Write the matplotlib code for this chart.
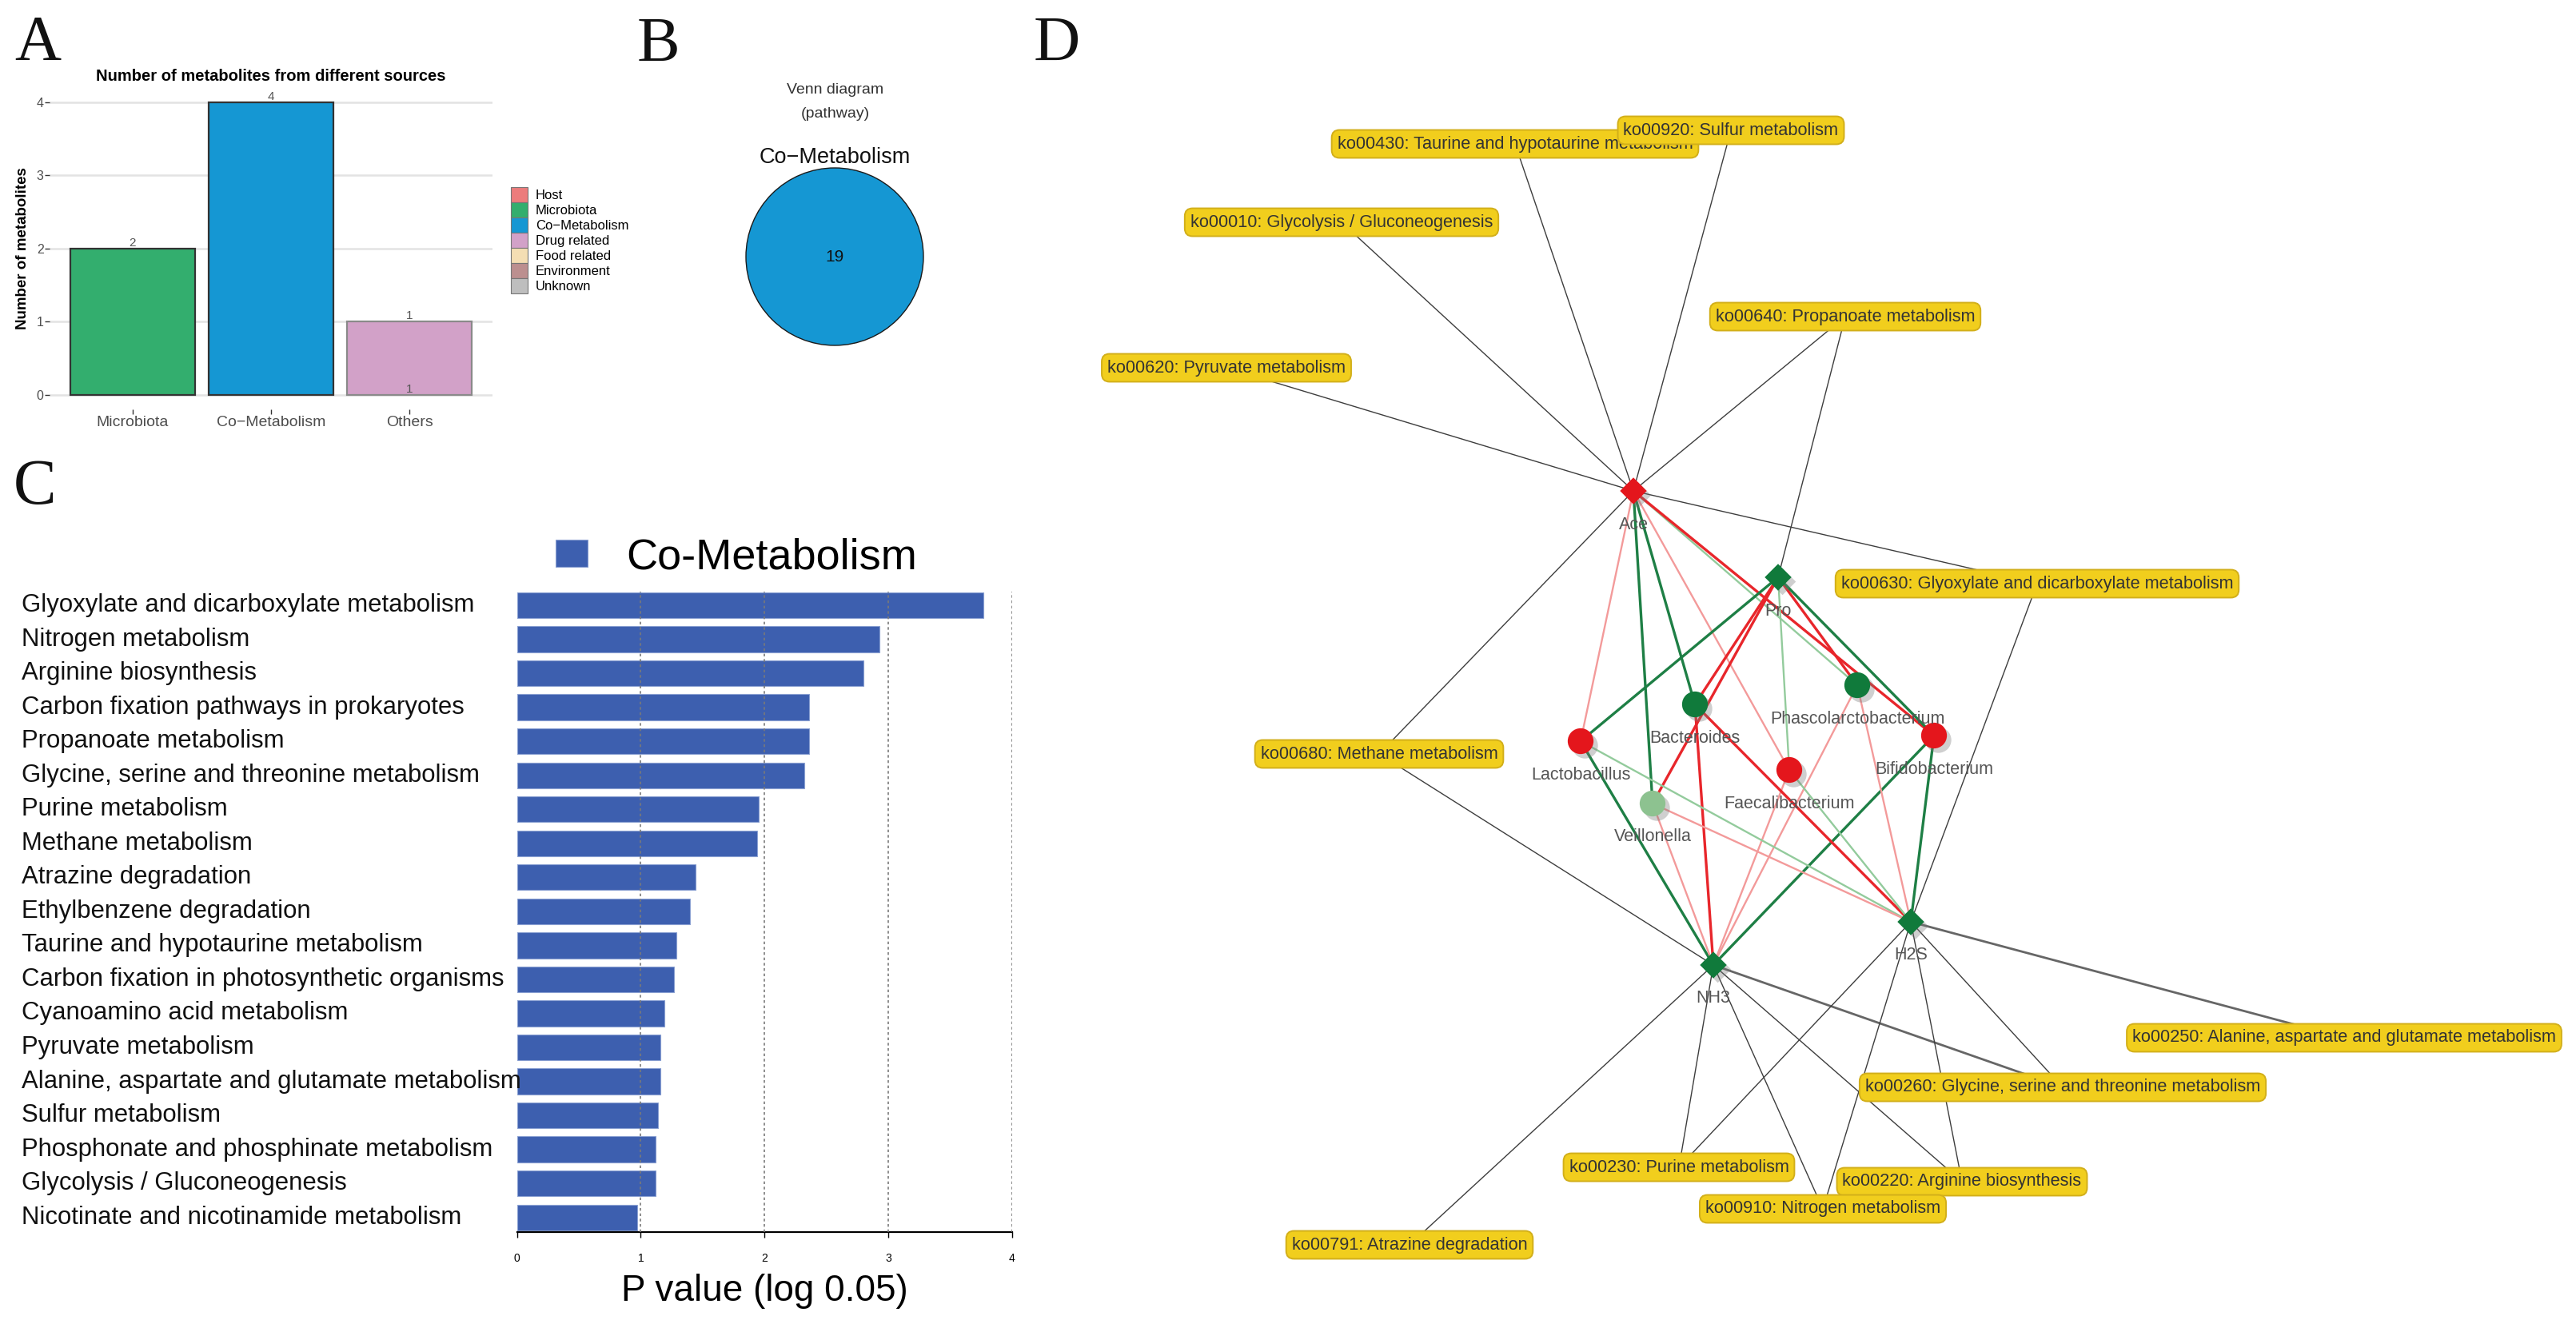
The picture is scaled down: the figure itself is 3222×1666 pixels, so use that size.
import numpy as np
import matplotlib.pyplot as plt
from matplotlib.patches import Patch, Circle
from matplotlib import patheffects
from matplotlib.transforms import blended_transform_factory

plt.rcParams['font.family'] = ['Liberation Sans', 'DejaVu Sans']

# figure size in pixels (dpi 100)
W, H = 3223, 1666

# ---------------- panel A: metabolite sources ----------------
source_cats = ['Microbiota', 'Co\u2212Metabolism', 'Others']
source_counts = [2, 4, 1]
source_colors = ['#33AE6E', '#1597D3', '#D2A1C8']
source_edges = ['#333333', '#333333', '#8a8a8a']
legend_names = ['Host', 'Microbiota', 'Co\u2212Metabolism', 'Drug related',
                'Food related', 'Environment', 'Unknown']
legend_colors = ['#EC7C7C', '#33AE6E', '#1597D3', '#D2A1C8',
                 '#F4DEB3', '#BC8F8F', '#BEBEBE']

# ---------------- panel B: venn ----------------
venn_set = 'Co\u2212Metabolism'
venn_count = 19

# ---------------- panel C: enrichment ----------------
pathways = ['Glyoxylate and dicarboxylate metabolism', 'Nitrogen metabolism',
            'Arginine biosynthesis', 'Carbon fixation pathways in prokaryotes',
            'Propanoate metabolism', 'Glycine, serine and threonine metabolism',
            'Purine metabolism', 'Methane metabolism', 'Atrazine degradation',
            'Ethylbenzene degradation', 'Taurine and hypotaurine metabolism',
            'Carbon fixation in photosynthetic organisms',
            'Cyanoamino acid metabolism', 'Pyruvate metabolism',
            'Alanine, aspartate and glutamate metabolism', 'Sulfur metabolism',
            'Phosphonate and phosphinate metabolism',
            'Glycolysis / Gluconeogenesis',
            'Nicotinate and nicotinamide metabolism']
log_p = [3.77, 2.93, 2.80, 2.36, 2.36, 2.32, 1.95, 1.94, 1.44, 1.40,
         1.29, 1.27, 1.19, 1.16, 1.16, 1.14, 1.12, 1.12, 0.97]

# ---------------- panel D: network (layout in pixel coords) ----------------
node_names = ['Ace', 'Pro', 'NH3', 'H2S', 'Lactobacillus', 'Bacteroides',
              'Phascolarctobacterium', 'Bifidobacterium', 'Faecalibacterium',
              'Veillonella']
node_x = [2043, 2224, 2143, 2390, 1977, 2120, 2323, 2419, 2238, 2067]
node_y = [614, 722, 1207, 1153, 927, 881, 857, 920, 963, 1005]
node_marker = ['D', 'D', 'D', 'D', 'o', 'o', 'o', 'o', 'o', 'o']
node_color = ['#E4161C', '#107A3B', '#107A3B', '#107A3B', '#E4161C',
              '#107A3B', '#107A3B', '#E4161C', '#E4161C', '#8DC290']

ko_names = ['ko00430: Taurine and hypotaurine metabolism', 'ko00920: Sulfur metabolism',
            'ko00010: Glycolysis / Gluconeogenesis', 'ko00620: Pyruvate metabolism',
            'ko00640: Propanoate metabolism', 'ko00630: Glyoxylate and dicarboxylate metabolism',
            'ko00680: Methane metabolism', 'ko00250: Alanine, aspartate and glutamate metabolism',
            'ko00260: Glycine, serine and threonine metabolism', 'ko00230: Purine metabolism',
            'ko00220: Arginine biosynthesis', 'ko00910: Nitrogen metabolism',
            'ko00791: Atrazine degradation']
ko_x = [1895, 2165, 1678, 1534, 2308, 2548, 1725, 2932, 2580, 2100, 2454, 2280, 1763]
ko_y = [180, 163, 278, 460, 396, 730, 943, 1298, 1360, 1460, 1478, 1512, 1557]

# metabolite -> pathway links (index into ko lists)
ko_links = [('Ace', 0), ('Ace', 1), ('Ace', 2), ('Ace', 3), ('Ace', 4), ('Ace', 5),
            ('Ace', 6), ('Pro', 4),
            ('NH3', 6), ('NH3', 12), ('NH3', 9), ('NH3', 11), ('NH3', 10), ('NH3', 8),
            ('H2S', 5), ('H2S', 7), ('H2S', 8), ('H2S', 9), ('H2S', 10), ('H2S', 11)]

# microbe <-> metabolite correlations: pos/neg, strong/weak
corr_links = [('Ace', 'Lactobacillus', 'pos_w'), ('Ace', 'Veillonella', 'neg_s'),
              ('Ace', 'Bacteroides', 'neg_s'), ('Ace', 'Faecalibacterium', 'pos_w'),
              ('Ace', 'Phascolarctobacterium', 'neg_w'), ('Ace', 'Bifidobacterium', 'pos_s'),
              ('Pro', 'Lactobacillus', 'neg_s'), ('Pro', 'Bacteroides', 'pos_s'),
              ('Pro', 'Veillonella', 'pos_s'), ('Pro', 'Faecalibacterium', 'neg_w'),
              ('Pro', 'Phascolarctobacterium', 'pos_s'), ('Pro', 'Bifidobacterium', 'neg_s'),
              ('NH3', 'Lactobacillus', 'neg_s'), ('NH3', 'Veillonella', 'pos_w'),
              ('NH3', 'Bacteroides', 'pos_s'), ('NH3', 'Faecalibacterium', 'pos_w'),
              ('NH3', 'Phascolarctobacterium', 'pos_w'), ('NH3', 'Bifidobacterium', 'neg_s'),
              ('H2S', 'Lactobacillus', 'neg_w'), ('H2S', 'Veillonella', 'pos_w'),
              ('H2S', 'Bacteroides', 'pos_s'), ('H2S', 'Faecalibacterium', 'neg_w'),
              ('H2S', 'Phascolarctobacterium', 'pos_w'), ('H2S', 'Bifidobacterium', 'neg_s')]
corr_style = {'pos_s': ('#E8262B', 2.4), 'pos_w': ('#F39A9A', 1.7),
              'neg_s': ('#1E7F45', 2.4), 'neg_w': ('#93CB9C', 1.7)}


fig = plt.figure(figsize=(W / 100, H / 100), dpi=100)

# ---- overlay axes in pixel coordinates (panel B and D) ----
axN = fig.add_axes([0, 0, 1, 1])
axN.set_xlim(0, W)
axN.set_ylim(H, 0)
axN.axis('off')

# ---- A ----
axA = fig.add_axes([0.01914, 0.6927, 0.1720, 0.2415])
xa = np.arange(1, len(source_cats) + 1)
axA.bar(xa, source_counts, width=0.9, color=source_colors, edgecolor=source_edges,
        linewidth=1.6, zorder=2)
for x, v in zip(xa, source_counts):
    axA.text(x, v, str(v), ha='center', va='bottom', fontsize=11, color='#555555')
axA.text(xa[-1], 0, str(source_counts[-1]), ha='center', va='bottom', fontsize=11,
         color='#555555')
axA.set_xlim(0.4, 3.6)
axA.set_ylim(-0.2, 4.2)
axA.set_yticks(range(5))
axA.set_xticks(xa)
axA.set_xticklabels(source_cats)
axA.yaxis.grid(True, color='#E3E3E3', lw=1.8)
axA.set_axisbelow(True)
for sp in axA.spines.values():
    sp.set_visible(False)
axA.tick_params(axis='y', length=4, width=1, color='#333333', labelsize=11.5,
                labelcolor='#4D4D4D', pad=1)
axA.tick_params(axis='x', length=4, width=1, color='#333333', labelsize=14,
                labelcolor='#4D4D4D', pad=2)
axA.set_title('Number of metabolites from different sources', fontsize=14.5,
              fontweight='bold', pad=6)
axA.set_ylabel('Number of metabolites', fontsize=13.5, fontweight='bold')
axA.yaxis.set_label_coords(-0.045, 0.5)
handles = [Patch(facecolor=c, edgecolor='#777777', lw=0.8) for c in legend_colors]
fig.legend(handles, legend_names, loc='upper left', bbox_to_anchor=(0.1983, 0.8595),
           frameon=False, fontsize=12, handlelength=1.26, handleheight=1.38,
           labelspacing=0, handletextpad=0.6, borderpad=0, borderaxespad=0)

# ---- B ----
axN.text(1045, 112, 'Venn diagram', ha='center', va='center', fontsize=14, color='#333333')
axN.text(1045, 142, '(pathway)', ha='center', va='center', fontsize=14, color='#333333')
axN.text(1044, 197, venn_set, ha='center', va='center', fontsize=19.5, color='#111111')
axN.add_patch(Circle((1044, 321), 111, facecolor='#1597D3', edgecolor='#1a1a1a', lw=1.0))
axN.text(1044, 321, str(venn_count), ha='center', va='center', fontsize=15, color='#111111')

# ---- C ----
axC = fig.add_axes([0.2006, 0.0753, 0.1922, 0.4805])
yc = np.arange(len(pathways))
axC.barh(yc, log_p, height=0.76, color='#3D5FAF', edgecolor='#8AA0D2', lw=0.8,
         zorder=2, label='Co-Metabolism')
for v in [1, 2, 3, 4]:
    axC.axvline(v, color='#7a7a7a', ls=(0, (2, 2)), lw=1.2, zorder=3)
axC.set_xlim(0, 4)
axC.set_ylim(18.42, -0.4)
axC.set_yticks([])
axC.set_xticks(range(5))
for sp in ['left', 'top', 'right']:
    axC.spines[sp].set_visible(False)
axC.spines['bottom'].set_linewidth(1.6)
axC.tick_params(axis='x', length=5, width=1, labelsize=10, pad=14)
trans = blended_transform_factory(fig.transFigure, axC.transData)
for y, name in zip(yc, pathways):
    axC.text(27 / W, y, name, transform=trans, ha='left', va='center', fontsize=22.4,
             color='#111111')
axC.set_xlabel('P value (log 0.05)', fontsize=33)
axC.xaxis.set_label_coords(0.5, -0.066)
axC.legend(loc='center left', bbox_to_anchor=(695 / W, 1 - 697 / H),
           bbox_transform=fig.transFigure, frameon=False, fontsize=39,
           handlelength=0.74, handleheight=0.59, handletextpad=0.89,
           borderpad=0, borderaxespad=0)

# ---- D ----
pos = {n: (x, y) for n, x, y in zip(node_names, node_x, node_y)}
for m, k in ko_links:
    thick = (m, k) in [('H2S', 7), ('NH3', 8)]
    axN.plot([pos[m][0], ko_x[k]], [pos[m][1], ko_y[k]], color='#666666' if thick else '#3d3d3d',
             lw=2.0 if thick else 1.0, zorder=1)
for a, b, kind in corr_links:
    col, lw = corr_style[kind]
    axN.plot([pos[a][0], pos[b][0]], [pos[a][1], pos[b][1]], color=col, lw=lw, zorder=2)

shadow = [patheffects.SimplePatchShadow(offset=(4, -4), shadow_rgbFace='#777777', alpha=0.35),
          patheffects.Normal()]
for n, x, y, mk, c in zip(node_names, node_x, node_y, node_marker, node_color):
    s = 290 if mk == 'D' else 540
    axN.scatter([x], [y], marker=mk, s=s, color=c, edgecolors='none', zorder=4,
                path_effects=shadow)
    axN.text(x, y + 42, n, ha='center', va='center', fontsize=15.5, color='#555555', zorder=5)

for name, x, y in zip(ko_names, ko_x, ko_y):
    axN.text(x, y, name, ha='center', va='center', fontsize=15.7, color='#333333', zorder=6,
             bbox=dict(boxstyle='round,pad=0.32,rounding_size=0.45', fc='#F1CE1D',
                       ec='#D2AF1A', lw=1.4))

# ---- panel letters ----
for lab, x, y in [('A', 18, 75), ('B', 797, 77), ('C', 17, 630), ('D', 1293, 76)]:
    fig.text(x / W, 1 - y / H, lab, fontsize=58, family='Liberation Serif',
             va='baseline', ha='left', color='#111111')

fig.savefig('out.png', dpi=100)
